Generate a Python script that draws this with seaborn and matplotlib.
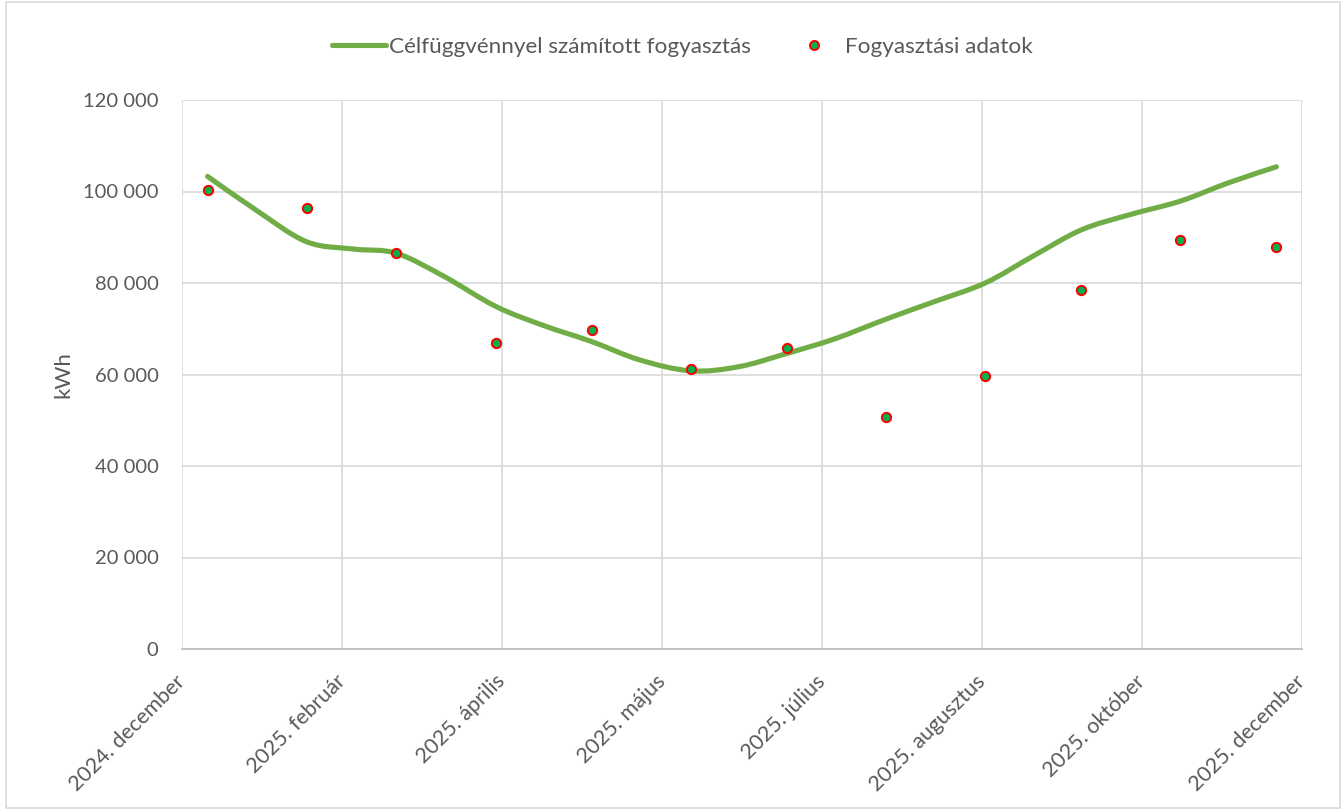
import pandas as pd
import matplotlib.pyplot as plt
import matplotlib.dates as mdates
import matplotlib.transforms as mtransforms
from matplotlib.path import Path
from matplotlib.patches import PathPatch
from matplotlib.lines import Line2D
import seaborn as sns

# Measured consumption (first day of each month)
meas_dates = pd.date_range("2025-01-01", "2025-12-01", freq="MS")
meas_kwh = [100300, 96300, 86600, 66900, 69800, 61300,
            65700, 50800, 59600, 78500, 89300, 87900]

# Consumption computed with the objective function (read at 1st and 16th of month)
model_dates = pd.to_datetime([
    "2025-01-01", "2025-01-16", "2025-02-01", "2025-02-16", "2025-03-01", "2025-03-16",
    "2025-04-01", "2025-04-16", "2025-05-01", "2025-05-16", "2025-06-01", "2025-06-16",
    "2025-07-01", "2025-07-16", "2025-08-01", "2025-08-16", "2025-09-01", "2025-09-16",
    "2025-10-01", "2025-10-16", "2025-11-01", "2025-11-16", "2025-12-01"])
model_kwh = [103300, 96000, 89000, 87400, 86500, 81400,
             74900, 70700, 67200, 63200, 60800, 61700,
             64600, 67800, 72100, 75900, 80000, 85900,
             91600, 94900, 97900, 101900, 105400]

x_ticks = pd.date_range("2024-12-24", periods=8, freq="50D")
x_labels = ["2024. december", "2025. február", "2025. április", "2025. május",
            "2025. július", "2025. augusztus", "2025. október", "2025. december"]
y_ticks = [0, 20000, 40000, 60000, 80000, 100000, 120000]
y_labels = ["0", "20 000", "40 000", "60 000", "80 000", "100 000", "120 000"]

line_col = "#70ad47"
txt = "#595959"

sns.set_style("white")
plt.rcParams["font.family"] = ["Lato", "DejaVu Sans"]

fig = plt.figure(figsize=(13.43, 8.10), dpi=100)
ax = fig.add_axes([182 / 1343, 1 - 649 / 810, 1120 / 1343, 549 / 810])

# smoothed line (Excel-style Catmull-Rom bezier through the read values)
xs = list(mdates.date2num(model_dates))
ys = list(model_kwh)
verts = [(xs[0], ys[0])]
codes = [Path.MOVETO]
n = len(xs)
for i in range(n - 1):
    x0, y0 = (xs[i - 1], ys[i - 1]) if i > 0 else (xs[i], ys[i])
    x3, y3 = (xs[i + 2], ys[i + 2]) if i + 2 < n else (xs[i + 1], ys[i + 1])
    c1 = (xs[i] + (xs[i + 1] - x0) / 6, ys[i] + (ys[i + 1] - y0) / 6)
    c2 = (xs[i + 1] - (x3 - xs[i]) / 6, ys[i + 1] - (y3 - ys[i]) / 6)
    verts += [c1, c2, (xs[i + 1], ys[i + 1])]
    codes += [Path.CURVE4] * 3
ax.add_patch(PathPatch(Path(verts, codes), facecolor="none", edgecolor=line_col,
                       linewidth=3.7, capstyle="round", zorder=3))

meas = pd.DataFrame({"date": meas_dates, "kwh": meas_kwh})
sns.scatterplot(data=meas, x="date", y="kwh", ax=ax, color="#00b050", edgecolor="#ff0000",
                linewidth=1.4, s=45, zorder=4, legend=False)

ax.set_xlim(x_ticks[0], x_ticks[-1])
ax.set_ylim(0, 120000)
ax.set_xticks(x_ticks)
ax.set_xticklabels(x_labels, rotation=45, ha="right", va="top", rotation_mode="anchor")
ax.set_yticks(y_ticks)
ax.set_yticklabels(y_labels)
ax.tick_params(axis="x", length=0, labelsize=15.5, colors=txt, pad=16)
ax.tick_params(axis="y", length=0, labelsize=14.5, colors=txt, pad=17)
shift = mtransforms.ScaledTranslation(-7 / 100, 0, fig.dpi_scale_trans)
for lab in ax.get_xticklabels():
    lab.set_transform(lab.get_transform() + shift)

ax.grid(True, color="#d9d9d9", linewidth=1.2)
ax.set_axisbelow(True)
for side in ["top", "right", "left"]:
    ax.spines[side].set_visible(False)
ax.spines["bottom"].set_color("#bfbfbf")
ax.spines["bottom"].set_linewidth(1.3)

ax.set_xlabel("")
ax.set_ylabel("kWh", fontsize=16, color=txt, labelpad=7)

handles = [Line2D([], [], color=line_col, linewidth=3.7, solid_capstyle="round"),
           Line2D([], [], linestyle="none", marker="o", markersize=6.5,
                  markerfacecolor="#00b050", markeredgecolor="#ff0000", markeredgewidth=1.4)]
fig.legend(handles, ["Célfüggvénnyel számított fogyasztás", "Fogyasztási adatok"],
           loc="center", bbox_to_anchor=(0.508, 1 - 47 / 810), ncol=2, frameon=False,
           fontsize=16.2, labelcolor=txt, handlelength=2.4, handletextpad=0.15,
           columnspacing=1.6)

fig.patches.append(plt.Rectangle((6 / 1343, 2 / 810), 1334 / 1343, 806 / 810,
                                 transform=fig.transFigure, fill=False,
                                 edgecolor="#d9d9d9", linewidth=1.2))

fig.savefig("out.png", dpi=100)
